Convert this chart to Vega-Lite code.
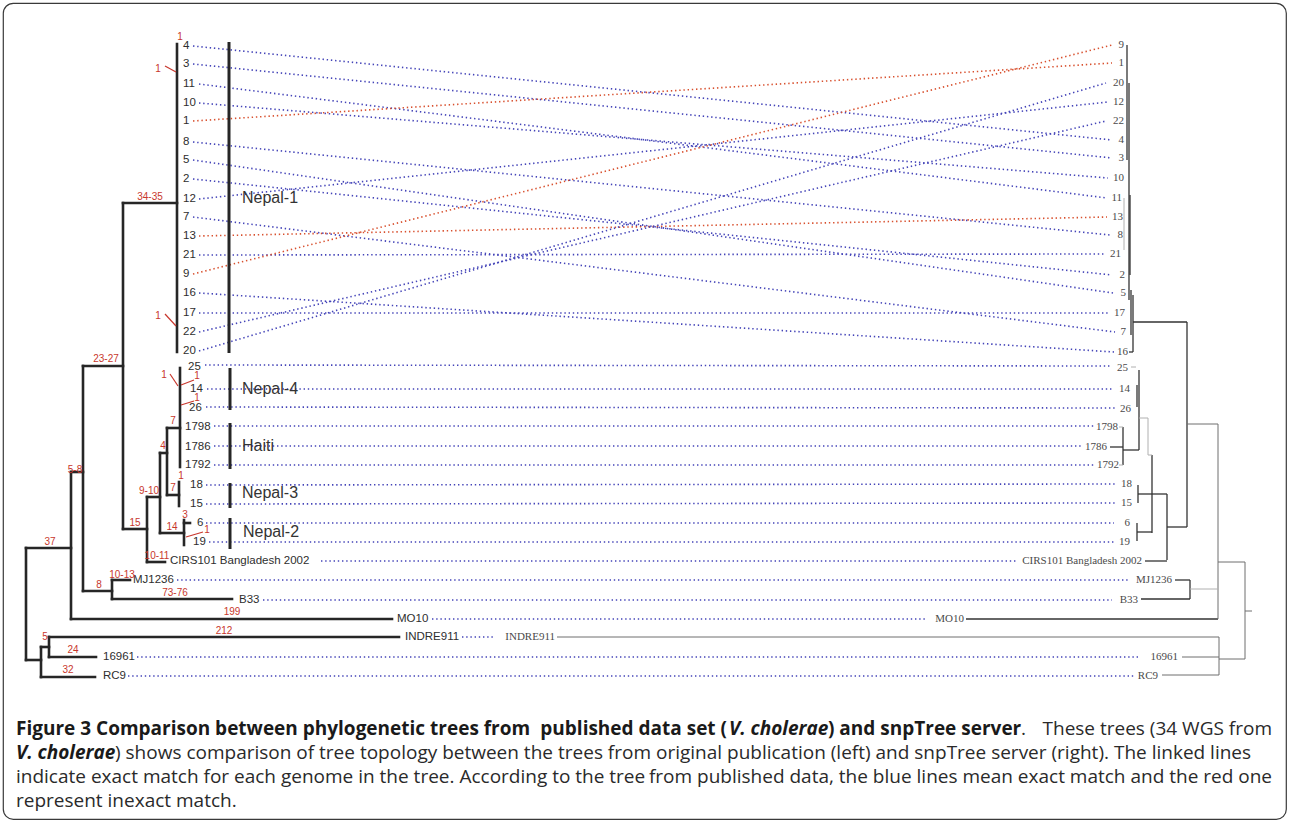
{
  "$schema": "https://vega.github.io/schema/vega-lite/v6.json",
  "width": 1289,
  "height": 822,
  "autosize": {"type": "fit", "contains": "padding"},
  "padding": {"left": 3, "top": 3, "right": 3, "bottom": 3},
  "background": "white",
  "config": {"view": {"stroke": "#3a3a3a", "strokeWidth": 1.2, "cornerRadius": 10}},
  "datasets": {
    "tree": [
      {"x":177,"y":44,"x2":177,"y2":352,"k":"L"},
      {"x":123,"y":203,"x2":177,"y2":203,"k":"L"},
      {"x":123,"y":203,"x2":123,"y2":529,"k":"L"},
      {"x":83,"y":366,"x2":123,"y2":366,"k":"L"},
      {"x":83,"y":366,"x2":83,"y2":591,"k":"L"},
      {"x":123,"y":529,"x2":147,"y2":529,"k":"L"},
      {"x":147,"y":497,"x2":147,"y2":562,"k":"L"},
      {"x":147,"y":497,"x2":160,"y2":497,"k":"L"},
      {"x":147,"y":562,"x2":165,"y2":562,"k":"L"},
      {"x":160,"y":453,"x2":160,"y2":533,"k":"L"},
      {"x":160,"y":453,"x2":167,"y2":453,"k":"L"},
      {"x":160,"y":533,"x2":184,"y2":533,"k":"L"},
      {"x":167,"y":428,"x2":167,"y2":495,"k":"L"},
      {"x":167,"y":428,"x2":180,"y2":428,"k":"L"},
      {"x":167,"y":495,"x2":179,"y2":495,"k":"L"},
      {"x":180,"y":368,"x2":180,"y2":467,"k":"L"},
      {"x":179,"y":482,"x2":179,"y2":506,"k":"L"},
      {"x":184,"y":520,"x2":184,"y2":545,"k":"L"},
      {"x":184,"y":523,"x2":190,"y2":523,"k":"L"},
      {"x":83,"y":591,"x2":112,"y2":591,"k":"L"},
      {"x":112,"y":580,"x2":112,"y2":599,"k":"L"},
      {"x":112,"y":580,"x2":130,"y2":580,"k":"L"},
      {"x":112,"y":599,"x2":232,"y2":599,"k":"L"},
      {"x":71,"y":472,"x2":83,"y2":472,"k":"L"},
      {"x":71,"y":472,"x2":71,"y2":619,"k":"L"},
      {"x":71,"y":619,"x2":392,"y2":619,"k":"L"},
      {"x":26,"y":548,"x2":71,"y2":548,"k":"L"},
      {"x":26,"y":548,"x2":26,"y2":660,"k":"L"},
      {"x":26,"y":660,"x2":41,"y2":660,"k":"L"},
      {"x":41,"y":647,"x2":41,"y2":677,"k":"L"},
      {"x":41,"y":647,"x2":49,"y2":647,"k":"L"},
      {"x":49,"y":637,"x2":49,"y2":657,"k":"L"},
      {"x":49,"y":637,"x2":399,"y2":637,"k":"L"},
      {"x":49,"y":657,"x2":96,"y2":657,"k":"L"},
      {"x":41,"y":677,"x2":95,"y2":677,"k":"L"},
      {"x":229,"y":42,"x2":229,"y2":353,"k":"B"},
      {"x":230,"y":368,"x2":230,"y2":410,"k":"B"},
      {"x":230,"y":423,"x2":230,"y2":469,"k":"B"},
      {"x":230,"y":483,"x2":230,"y2":508,"k":"B"},
      {"x":230,"y":518,"x2":230,"y2":549,"k":"B"},
      {"x":1127,"y":45,"x2":1127,"y2":160,"k":"R"},
      {"x":1129,"y":83,"x2":1129,"y2":300,"k":"R"},
      {"x":1130,"y":195,"x2":1130,"y2":275,"k":"R"},
      {"x":1131,"y":290,"x2":1131,"y2":335,"k":"R"},
      {"x":1133,"y":295,"x2":1133,"y2":352,"k":"R"},
      {"x":1133,"y":322,"x2":1187,"y2":322,"k":"R"},
      {"x":1129,"y":352,"x2":1133,"y2":352,"k":"R"},
      {"x":1187,"y":322,"x2":1187,"y2":527,"k":"R"},
      {"x":1137,"y":385,"x2":1137,"y2":407,"k":"R"},
      {"x":1139,"y":370,"x2":1139,"y2":450,"k":"R"},
      {"x":1123,"y":450,"x2":1139,"y2":450,"k":"R"},
      {"x":1123,"y":427,"x2":1123,"y2":465,"k":"R"},
      {"x":1110,"y":447,"x2":1123,"y2":447,"k":"R"},
      {"x":1152,"y":455,"x2":1152,"y2":533,"k":"R"},
      {"x":1138,"y":485,"x2":1138,"y2":503,"k":"R"},
      {"x":1138,"y":494,"x2":1152,"y2":494,"k":"R"},
      {"x":1137,"y":523,"x2":1137,"y2":541,"k":"R"},
      {"x":1137,"y":532,"x2":1152,"y2":532,"k":"R"},
      {"x":1152,"y":494,"x2":1167,"y2":494,"k":"R"},
      {"x":1167,"y":494,"x2":1167,"y2":560,"k":"R"},
      {"x":1145,"y":561,"x2":1167,"y2":561,"k":"R"},
      {"x":1167,"y":527,"x2":1187,"y2":527,"k":"R"},
      {"x":1190,"y":580,"x2":1190,"y2":599,"k":"R"},
      {"x":1175,"y":580,"x2":1190,"y2":580,"k":"R"},
      {"x":1141,"y":599,"x2":1190,"y2":599,"k":"R"},
      {"x":966,"y":619,"x2":1218,"y2":619,"k":"R"},
      {"x":1187,"y":424,"x2":1218,"y2":424,"k":"M"},
      {"x":1218,"y":424,"x2":1218,"y2":619,"k":"M"},
      {"x":1218,"y":562,"x2":1245,"y2":562,"k":"M"},
      {"x":557,"y":637,"x2":1219,"y2":637,"k":"M"},
      {"x":1219,"y":637,"x2":1219,"y2":675,"k":"M"},
      {"x":1182,"y":657,"x2":1219,"y2":657,"k":"M"},
      {"x":1162,"y":675,"x2":1219,"y2":675,"k":"M"},
      {"x":1219,"y":659,"x2":1245,"y2":659,"k":"M"},
      {"x":1245,"y":562,"x2":1245,"y2":659,"k":"M"},
      {"x":1245,"y":611,"x2":1252,"y2":611,"k":"M"},
      {"x":1124,"y":198,"x2":1124,"y2":250,"k":"G"},
      {"x":1139,"y":418,"x2":1148,"y2":418,"k":"G"},
      {"x":1148,"y":418,"x2":1148,"y2":455,"k":"G"},
      {"x":1148,"y":455,"x2":1152,"y2":455,"k":"G"},
      {"x":1190,"y":589,"x2":1218,"y2":589,"k":"G"},
      {"x":1131,"y":367,"x2":1136,"y2":367,"k":"G"},
      {"x":1119,"y":427,"x2":1123,"y2":427,"k":"G"},
      {"x":1119,"y":465,"x2":1123,"y2":465,"k":"G"},
      {"x":165,"y":66,"x2":176,"y2":72,"k":"A"},
      {"x":165,"y":314,"x2":176,"y2":326,"k":"A"},
      {"x":170,"y":374,"x2":178,"y2":386,"k":"A"},
      {"x":194,"y":380,"x2":181,"y2":385,"k":"A"},
      {"x":194,"y":401,"x2":181,"y2":405,"k":"A"},
      {"x":203,"y":532,"x2":186,"y2":537,"k":"A"}
    ],
    "links": [
      {"id":"4","x":193,"y":46,"x2":1112,"y2":140,"m":"exact"},
      {"id":"3","x":193,"y":64,"x2":1112,"y2":158,"m":"exact"},
      {"id":"11","x":199,"y":84,"x2":1107,"y2":198,"m":"exact"},
      {"id":"10","x":199,"y":103,"x2":1108,"y2":178,"m":"exact"},
      {"id":"1","x":193,"y":121,"x2":1112,"y2":63,"m":"inexact"},
      {"id":"8","x":193,"y":142,"x2":1110,"y2":235,"m":"exact"},
      {"id":"5","x":193,"y":160,"x2":1113,"y2":293,"m":"exact"},
      {"id":"2","x":193,"y":179,"x2":1112,"y2":275,"m":"exact"},
      {"id":"12","x":199,"y":199,"x2":1108,"y2":102,"m":"exact"},
      {"id":"7","x":193,"y":217,"x2":1115,"y2":332,"m":"exact"},
      {"id":"13","x":199,"y":236,"x2":1107,"y2":217,"m":"inexact"},
      {"id":"21","x":199,"y":255,"x2":1105,"y2":254,"m":"exact"},
      {"id":"9","x":193,"y":274,"x2":1112,"y2":45,"m":"inexact"},
      {"id":"16","x":199,"y":293,"x2":1114,"y2":352,"m":"exact"},
      {"id":"17","x":199,"y":313,"x2":1110,"y2":313,"m":"exact"},
      {"id":"22","x":199,"y":332,"x2":1106,"y2":121,"m":"exact"},
      {"id":"20","x":199,"y":351,"x2":1106,"y2":83,"m":"exact"},
      {"id":"25","x":205,"y":365,"x2":1112,"y2":366,"m":"exact"},
      {"id":"14","x":207,"y":389,"x2":1113,"y2":389,"m":"exact"},
      {"id":"26","x":206,"y":407,"x2":1115,"y2":408,"m":"exact"},
      {"id":"1798","x":214,"y":426,"x2":1094,"y2":426,"m":"exact"},
      {"id":"1786","x":214,"y":446,"x2":1081,"y2":446,"m":"exact"},
      {"id":"1792","x":214,"y":465,"x2":1095,"y2":465,"m":"exact"},
      {"id":"18","x":206,"y":485,"x2":1116,"y2":484,"m":"exact"},
      {"id":"15","x":206,"y":504,"x2":1116,"y2":503,"m":"exact"},
      {"id":"6","x":206,"y":523,"x2":1114,"y2":523,"m":"exact"},
      {"id":"19","x":209,"y":542,"x2":1114,"y2":542,"m":"exact"},
      {"id":"CIRS101","x":321,"y":561,"x2":1018,"y2":561,"m":"exact"},
      {"id":"MJ1236","x":177,"y":580,"x2":1128,"y2":580,"m":"exact"},
      {"id":"B33","x":263,"y":600,"x2":1112,"y2":600,"m":"exact"},
      {"id":"MO10","x":432,"y":619,"x2":927,"y2":619,"m":"exact"},
      {"id":"INDRE911","x":462,"y":637,"x2":494,"y2":637,"m":"exact"},
      {"id":"16961","x":137,"y":657,"x2":1140,"y2":657,"m":"exact"},
      {"id":"RC9","x":128,"y":676,"x2":1134,"y2":676,"m":"exact"}
    ],
    "labels": [
      {"t":"4","x":183,"y":46,"k":"L"},
      {"t":"3","x":183,"y":64,"k":"L"},
      {"t":"11","x":183,"y":84,"k":"L"},
      {"t":"10","x":183,"y":103,"k":"L"},
      {"t":"1","x":183,"y":121,"k":"L"},
      {"t":"8","x":183,"y":142,"k":"L"},
      {"t":"5","x":183,"y":160,"k":"L"},
      {"t":"2","x":183,"y":179,"k":"L"},
      {"t":"12","x":183,"y":199,"k":"L"},
      {"t":"7","x":183,"y":217,"k":"L"},
      {"t":"13","x":183,"y":236,"k":"L"},
      {"t":"21","x":183,"y":255,"k":"L"},
      {"t":"9","x":183,"y":274,"k":"L"},
      {"t":"16","x":183,"y":293,"k":"L"},
      {"t":"17","x":183,"y":313,"k":"L"},
      {"t":"22","x":183,"y":332,"k":"L"},
      {"t":"20","x":183,"y":351,"k":"L"},
      {"t":"25","x":188,"y":367,"k":"L"},
      {"t":"14","x":190,"y":389,"k":"L"},
      {"t":"26","x":189,"y":408,"k":"L"},
      {"t":"1798","x":185,"y":427,"k":"L"},
      {"t":"1786","x":185,"y":447,"k":"L"},
      {"t":"1792","x":185,"y":465,"k":"L"},
      {"t":"18","x":190,"y":485,"k":"L"},
      {"t":"15","x":190,"y":504,"k":"L"},
      {"t":"6","x":197,"y":523,"k":"L"},
      {"t":"19","x":193,"y":542,"k":"L"},
      {"t":"CIRS101 Bangladesh 2002","x":170,"y":561,"k":"L"},
      {"t":"MJ1236","x":133,"y":580,"k":"L"},
      {"t":"B33","x":239,"y":600,"k":"L"},
      {"t":"MO10","x":397,"y":619,"k":"L"},
      {"t":"INDRE911","x":405,"y":637,"k":"L"},
      {"t":"16961","x":103,"y":657,"k":"L"},
      {"t":"RC9","x":103,"y":676,"k":"L"},
      {"t":"9","x":1124,"y":45,"k":"R"},
      {"t":"1","x":1124,"y":63,"k":"R"},
      {"t":"20","x":1124,"y":83,"k":"R"},
      {"t":"12","x":1124,"y":102,"k":"R"},
      {"t":"22","x":1124,"y":121,"k":"R"},
      {"t":"4","x":1124,"y":140,"k":"R"},
      {"t":"3","x":1124,"y":158,"k":"R"},
      {"t":"10","x":1124,"y":178,"k":"R"},
      {"t":"11","x":1122,"y":198,"k":"R"},
      {"t":"13","x":1123,"y":217,"k":"R"},
      {"t":"8","x":1123,"y":235,"k":"R"},
      {"t":"21","x":1121,"y":254,"k":"R"},
      {"t":"2","x":1125,"y":275,"k":"R"},
      {"t":"5","x":1126,"y":293,"k":"R"},
      {"t":"17","x":1125,"y":313,"k":"R"},
      {"t":"7","x":1126,"y":332,"k":"R"},
      {"t":"16","x":1128,"y":352,"k":"R"},
      {"t":"25","x":1128,"y":368,"k":"R"},
      {"t":"14","x":1130,"y":389,"k":"R"},
      {"t":"26","x":1131,"y":409,"k":"R"},
      {"t":"1798","x":1118,"y":427,"k":"R"},
      {"t":"1786","x":1107,"y":447,"k":"R"},
      {"t":"1792","x":1119,"y":465,"k":"R"},
      {"t":"18","x":1132,"y":484,"k":"R"},
      {"t":"15","x":1132,"y":503,"k":"R"},
      {"t":"6","x":1130,"y":523,"k":"R"},
      {"t":"19","x":1130,"y":542,"k":"R"},
      {"t":"CIRS101 Bangladesh 2002","x":1142,"y":561,"k":"R"},
      {"t":"MJ1236","x":1172,"y":580,"k":"R"},
      {"t":"B33","x":1138,"y":600,"k":"R"},
      {"t":"MO10","x":964,"y":619,"k":"R"},
      {"t":"INDRE911","x":555,"y":637,"k":"R"},
      {"t":"16961","x":1178,"y":657,"k":"R"},
      {"t":"RC9","x":1158,"y":676,"k":"R"},
      {"t":"Nepal-1","x":242,"y":198,"k":"C"},
      {"t":"Nepal-4","x":242,"y":389,"k":"C"},
      {"t":"Haiti","x":242,"y":446,"k":"C"},
      {"t":"Nepal-3","x":242,"y":493,"k":"C"},
      {"t":"Nepal-2","x":243,"y":532,"k":"C"},
      {"t":"1","x":180,"y":37,"k":"N"},
      {"t":"1","x":158,"y":69,"k":"N"},
      {"t":"34-35","x":150,"y":197,"k":"N"},
      {"t":"1","x":158,"y":316,"k":"N"},
      {"t":"23-27","x":106,"y":359,"k":"N"},
      {"t":"1","x":164,"y":375,"k":"N"},
      {"t":"1","x":197,"y":376,"k":"N"},
      {"t":"1","x":197,"y":398,"k":"N"},
      {"t":"7","x":173,"y":421,"k":"N"},
      {"t":"4","x":163,"y":446,"k":"N"},
      {"t":"1","x":181,"y":476,"k":"N"},
      {"t":"7","x":173,"y":488,"k":"N"},
      {"t":"5-8","x":75,"y":470,"k":"N"},
      {"t":"9-10","x":149,"y":491,"k":"N"},
      {"t":"3","x":185,"y":515,"k":"N"},
      {"t":"14","x":172,"y":527,"k":"N"},
      {"t":"1","x":207,"y":530,"k":"N"},
      {"t":"15","x":135,"y":523,"k":"N"},
      {"t":"10-11","x":157,"y":556,"k":"N"},
      {"t":"37","x":50,"y":542,"k":"N"},
      {"t":"10-13","x":122,"y":575,"k":"N"},
      {"t":"8","x":99,"y":585,"k":"N"},
      {"t":"73-76","x":175,"y":593,"k":"N"},
      {"t":"199","x":232,"y":612,"k":"N"},
      {"t":"212","x":224,"y":631,"k":"N"},
      {"t":"5","x":45,"y":637,"k":"N"},
      {"t":"24","x":73,"y":650,"k":"N"},
      {"t":"32","x":68,"y":670,"k":"N"}
    ],
    "caption": [
      {"t":"Figure 3 Comparison between phylogenetic trees from","x":16,"y":729,"s":"b","a":"left"},
      {"t":"published data set (","x":727,"y":729,"s":"b","a":"right"},
      {"t":"V. cholerae","x":729,"y":729,"s":"bi","a":"left"},
      {"t":") and snpTree server","x":828,"y":729,"s":"b","a":"left"},
      {"t":".","x":1021,"y":729,"s":"r","a":"left"},
      {"t":"These trees (34 WGS from","x":1272,"y":729,"s":"r","a":"right"},
      {"t":"V. cholerae","x":16,"y":753,"s":"bi","a":"left"},
      {"t":") shows comparison of tree topology between the","x":115,"y":753,"s":"r","a":"left"},
      {"t":"trees from original publication (left) and snpTree server (right). The linked lines","x":558,"y":753,"s":"r","a":"left"},
      {"t":"indicate exact match for each genome in the tree. According to the tree","x":16,"y":777,"s":"r","a":"left"},
      {"t":"from published data, the blue lines mean exact match and the red one","x":1272,"y":777,"s":"r","a":"right"},
      {"t":"represent inexact match.","x":16,"y":801,"s":"r","a":"left"}
    ]
  },
  "encoding": {
    "x": {"field": "x", "type": "quantitative", "scale": {"domain": [3, 1286], "nice": false, "zero": false}, "axis": null},
    "y": {"field": "y", "type": "quantitative", "scale": {"domain": [3, 819], "nice": false, "zero": false, "reverse": true}, "axis": null}
  },
  "layer": [
    {
      "data": {"name": "links"},
      "mark": {"type": "rule", "strokeDash": [1.4, 2.8], "strokeWidth": 1.6},
      "encoding": {
        "x2": {"field": "x2"},
        "y2": {"field": "y2"},
        "color": {"field": "m", "type": "nominal", "scale": {"domain": ["exact", "inexact"], "range": ["#4444b8", "#d8502e"]}, "legend": null}
      }
    },
    {
      "data": {"name": "tree"},
      "transform": [{"filter": "datum.k === 'L'"}],
      "mark": {"type": "rule", "color": "#262626", "strokeWidth": 2.6, "strokeCap": "square"},
      "encoding": {"x2": {"field": "x2"}, "y2": {"field": "y2"}}
    },
    {
      "data": {"name": "tree"},
      "transform": [{"filter": "datum.k === 'B'"}],
      "mark": {"type": "rule", "color": "#262626", "strokeWidth": 3},
      "encoding": {"x2": {"field": "x2"}, "y2": {"field": "y2"}}
    },
    {
      "data": {"name": "tree"},
      "transform": [{"filter": "datum.k === 'R'"}],
      "mark": {"type": "rule", "color": "#333333", "strokeWidth": 1.3},
      "encoding": {"x2": {"field": "x2"}, "y2": {"field": "y2"}}
    },
    {
      "data": {"name": "tree"},
      "transform": [{"filter": "datum.k === 'M'"}],
      "mark": {"type": "rule", "color": "#6f6f6f", "strokeWidth": 1},
      "encoding": {"x2": {"field": "x2"}, "y2": {"field": "y2"}}
    },
    {
      "data": {"name": "tree"},
      "transform": [{"filter": "datum.k === 'G'"}],
      "mark": {"type": "rule", "color": "#b0b0b0", "strokeWidth": 1},
      "encoding": {"x2": {"field": "x2"}, "y2": {"field": "y2"}}
    },
    {
      "data": {"name": "tree"},
      "transform": [{"filter": "datum.k === 'A'"}],
      "mark": {"type": "rule", "color": "#c8372d", "strokeWidth": 1.2},
      "encoding": {"x2": {"field": "x2"}, "y2": {"field": "y2"}}
    },
    {
      "data": {"name": "labels"},
      "transform": [{"filter": "datum.k === 'L'"}],
      "mark": {"type": "text", "align": "left", "baseline": "middle", "font": "Liberation Sans", "fontSize": 11.5, "color": "#2e2e2e"},
      "encoding": {"text": {"field": "t"}}
    },
    {
      "data": {"name": "labels"},
      "transform": [{"filter": "datum.k === 'R'"}],
      "mark": {"type": "text", "align": "right", "baseline": "middle", "font": "Liberation Serif", "fontSize": 11, "color": "#4a4a4a"},
      "encoding": {"text": {"field": "t"}}
    },
    {
      "data": {"name": "labels"},
      "transform": [{"filter": "datum.k === 'C'"}],
      "mark": {"type": "text", "align": "left", "baseline": "middle", "font": "Liberation Sans", "fontSize": 16, "color": "#333333"},
      "encoding": {"text": {"field": "t"}}
    },
    {
      "data": {"name": "labels"},
      "transform": [{"filter": "datum.k === 'N'"}],
      "mark": {"type": "text", "align": "center", "baseline": "middle", "font": "Liberation Sans", "fontSize": 10, "color": "#c8372d"},
      "encoding": {"text": {"field": "t"}}
    },
    {
      "data": {"name": "caption"},
      "transform": [{"filter": "datum.s === 'b' && datum.a === 'left'"}],
      "mark": {"type": "text", "align": "left", "baseline": "middle", "font": "Open Sans", "fontSize": 19, "fontWeight": "bold", "color": "#1a1a1a"},
      "encoding": {"text": {"field": "t"}}
    },
    {
      "data": {"name": "caption"},
      "transform": [{"filter": "datum.s === 'b' && datum.a === 'right'"}],
      "mark": {"type": "text", "align": "right", "baseline": "middle", "font": "Open Sans", "fontSize": 19, "fontWeight": "bold", "color": "#1a1a1a"},
      "encoding": {"text": {"field": "t"}}
    },
    {
      "data": {"name": "caption"},
      "transform": [{"filter": "datum.s === 'bi'"}],
      "mark": {"type": "text", "align": "left", "baseline": "middle", "font": "Open Sans", "fontSize": 19, "fontWeight": "bold", "fontStyle": "italic", "color": "#1a1a1a"},
      "encoding": {"text": {"field": "t"}}
    },
    {
      "data": {"name": "caption"},
      "transform": [{"filter": "datum.s === 'r' && datum.a === 'left'"}],
      "mark": {"type": "text", "align": "left", "baseline": "middle", "font": "Open Sans", "fontSize": 19, "color": "#2a2a2a"},
      "encoding": {"text": {"field": "t"}}
    },
    {
      "data": {"name": "caption"},
      "transform": [{"filter": "datum.s === 'r' && datum.a === 'right'"}],
      "mark": {"type": "text", "align": "right", "baseline": "middle", "font": "Open Sans", "fontSize": 19, "color": "#2a2a2a"},
      "encoding": {"text": {"field": "t"}}
    }
  ]
}
